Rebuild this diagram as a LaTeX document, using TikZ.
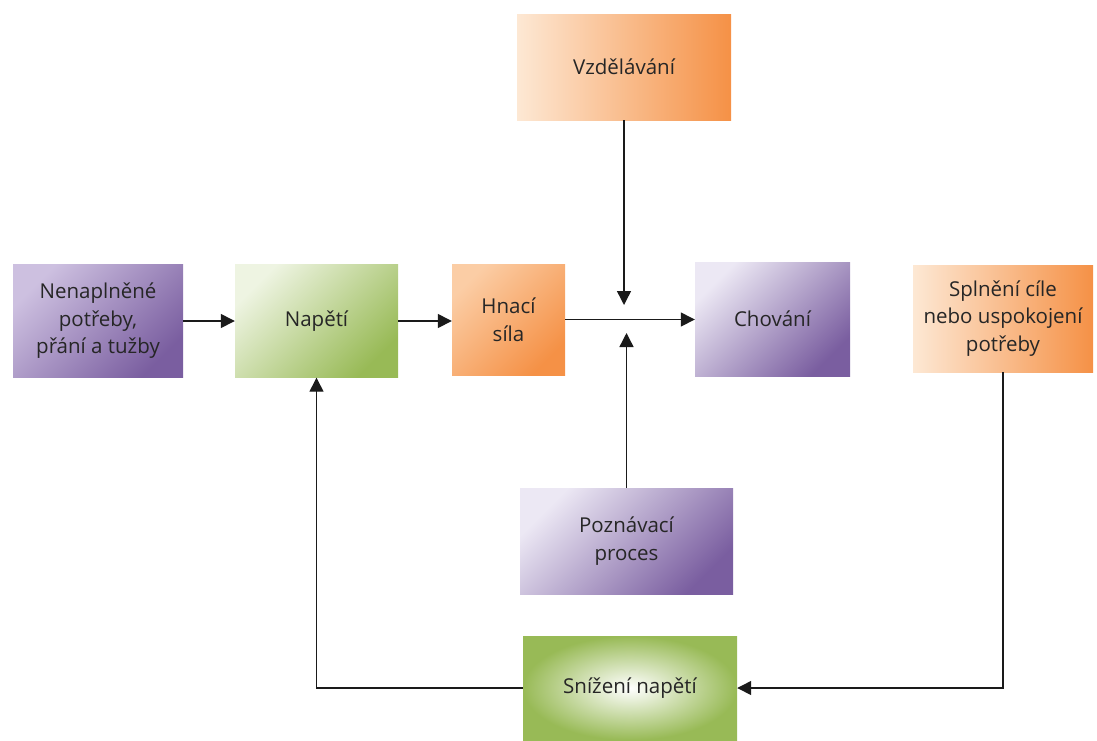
\documentclass[tikz,border=0pt]{standalone}
\usepackage{fontspec}
\setmainfont{Open Sans}
\usetikzlibrary{arrows.meta,shapes.geometric}
\definecolor{txt}{HTML}{262626}
\definecolor{ln}{HTML}{1A1A1A}
\definecolor{purD}{RGB}{122,94,160}
\definecolor{purL}{RGB}{236,232,244}
\definecolor{purM}{RGB}{205,192,224}
\definecolor{orD}{RGB}{245,145,70}
\definecolor{orL}{RGB}{253,232,212}
\definecolor{orM}{RGB}{251,205,165}
\definecolor{grD}{RGB}{152,186,86}
\definecolor{grL}{RGB}{238,244,226}
\tikzset{
  box/.style={rectangle, inner sep=2pt, align=center, text=txt,
    font=\fontsize{20.5}{27.5}\selectfont},
  purbox/.style={box, top color=purL, bottom color=purD, shading angle=45},
  purboxB/.style={box, top color=purM, bottom color=purD, shading angle=45},
  orbox/.style={box, left color=orL, right color=orD},
  orboxB/.style={box, top color=orM, bottom color=orD, shading angle=45},
  grbox/.style={box, top color=grL, bottom color=grD, shading angle=45},
  grrad/.style={box, inner color=white, outer color=grD, shading=radial},
  conn/.style={draw=ln, line width=1.4pt, -{Triangle[length=14pt,width=14pt]}},
}
\begin{document}
\begin{tikzpicture}[x=1pt,y=-1pt]
\useasboundingbox (0,0) rectangle (1097,740);
\clip (0,0) rectangle (1097,740);
\node[purboxB, minimum width=170pt, minimum height=113pt] (nen) at (98,321) {Nenaplněné\\potřeby,\\přání a tužby};
\node[grbox, minimum width=163pt, minimum height=113pt] (nap) at (316.5,321) {Napětí};
\node[orboxB, minimum width=113pt, minimum height=111pt] (hna) at (508.5,319.5) {Hnací\\síla};
\node[purbox, minimum width=155pt, minimum height=114pt] (cho) at (772.5,319) {Chování};
\node[orbox, minimum width=180pt, minimum height=107pt] (spl) at (1003,318.5) {Splnění cíle\\nebo uspokojení\\potřeby};
\node[orbox, minimum width=214pt, minimum height=106pt] (vzd) at (624,67) {Vzdělávání};
\node[purbox, minimum width=213pt, minimum height=106pt] (poz) at (626.5,541) {Poznávací\\proces};
\node[grrad, minimum width=214pt, minimum height=104pt] (sni) at (630,688) {Snížení napětí};
\coordinate (vtip) at (624,305);
\coordinate (ptip) at (626.5,333);
\draw[conn] (nen.east) -- (nap.west);
\draw[conn] (nap.east) -- (nap.east -| hna.west);
\draw[conn] (hna.east) -- (hna.east -| cho.west);
\draw[conn] (vzd.south) -- (vtip);
\draw[conn] (poz.north) -- (ptip);
\draw[conn] (spl.south) |- (sni.east);
\draw[conn] (sni.west) -| (nap.south);
\end{tikzpicture}
\end{document}
